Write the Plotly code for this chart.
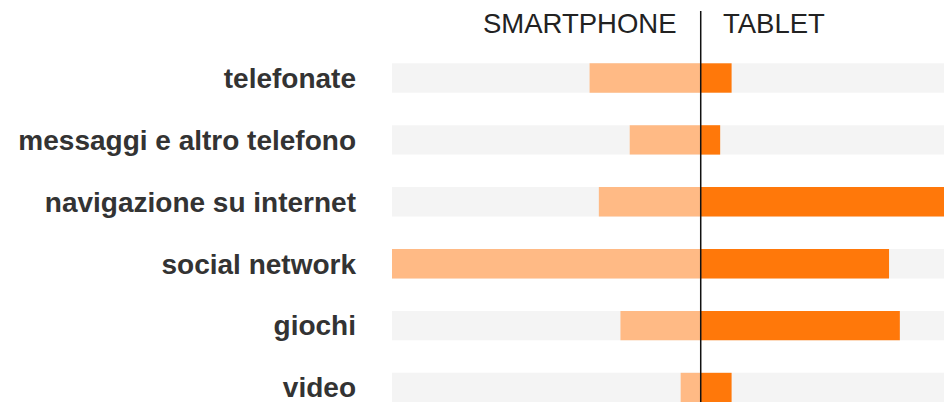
import plotly.graph_objects as go

categories = ["telefonate", "messaggi e altro telefono", "navigazione su internet",
              "social network", "giochi", "video"]
smartphone = [36, 23, 33, 100, 26, 6.5]
tablet = [10, 6.3, 82, 61, 64.5, 10]
scale_max = 100
headers = ["SMARTPHONE", "TABLET"]

idx = list(range(len(categories)))
W, H = 944, 402
L, T = 392, 11

fig = go.Figure()
fig.add_trace(go.Bar(y=idx, x=[2 * scale_max] * len(idx), base=-scale_max, orientation="h",
                     marker=dict(color="#f4f4f4", line=dict(width=0)), width=0.475,
                     hoverinfo="skip", showlegend=False))
fig.add_trace(go.Bar(y=idx, x=[-v for v in smartphone], orientation="h", name=headers[0],
                     marker=dict(color="#ffba85", line=dict(width=0)), width=0.475,
                     showlegend=False))
fig.add_trace(go.Bar(y=idx, x=tablet, orientation="h", name=headers[1],
                     marker=dict(color="#ff780a", line=dict(width=0)), width=0.475,
                     showlegend=False))

fig.add_shape(type="line", x0=0, x1=0, xref="x", yref="paper", y0=0, y1=1,
              line=dict(color="#111111", width=1.5))

fig.add_annotation(text=headers[0], x=0, xref="x", y=0.969, yref="paper",
                   xanchor="right", yanchor="middle", xshift=-22, showarrow=False,
                   font=dict(family="Liberation Sans, Arial", size=27.5, color="#222222"))
fig.add_annotation(text=headers[1], x=0, xref="x", y=0.969, yref="paper",
                   xanchor="left", yanchor="middle", xshift=20, showarrow=False,
                   font=dict(family="Liberation Sans, Arial", size=27.5, color="#222222"))

fig.update_layout(
    width=W, height=H,
    margin=dict(l=L, r=0, t=T, b=0),
    barmode="overlay",
    plot_bgcolor="white", paper_bgcolor="white",
    xaxis=dict(range=[-scale_max, 78.8], visible=False, fixedrange=True),
    yaxis=dict(range=[5.234, -1.0824], tickvals=idx, ticktext=categories,
               showgrid=False, zeroline=False, showline=False, ticks="",
               ticklabelstandoff=35, ticklabeloverflow="allow", fixedrange=True,
               tickfont=dict(family="Liberation Sans, Arial", size=28, color="#333333",
                             weight="bold")),
)

fig.write_html("out.html", config={"displayModeBar": False, "staticPlot": True},
               post_script="document.body.style.margin='0';document.body.style.overflow='hidden';")
